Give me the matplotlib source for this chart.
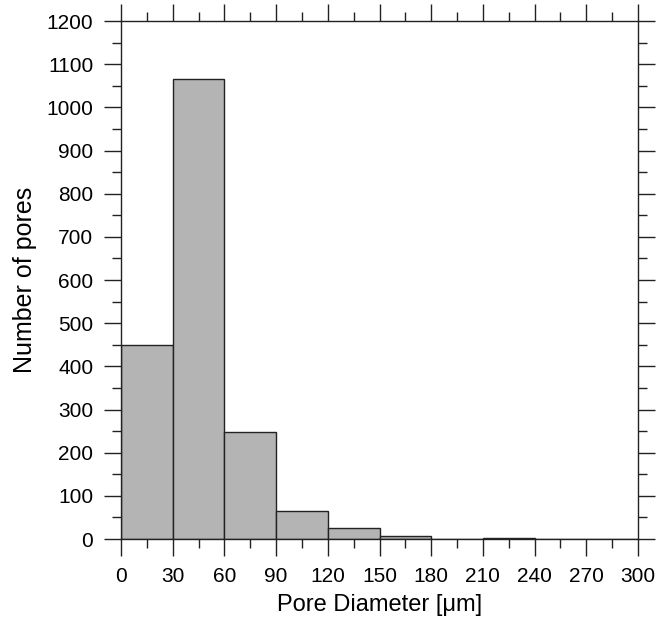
import matplotlib
matplotlib.use("Agg")
import matplotlib.pyplot as plt
from matplotlib.ticker import MultipleLocator

bin_edges = [0, 30, 60, 90, 120, 150, 180, 210, 240, 270, 300]
counts = [450, 1065, 248, 65, 25, 8, 0, 3, 0, 0]
x_ticks = [0, 30, 60, 90, 120, 150, 180, 210, 240, 270, 300]
y_ticks = [0, 100, 200, 300, 400, 500, 600, 700, 800, 900, 1000, 1100, 1200]

plt.rcParams['font.family'] = ['Liberation Sans', 'DejaVu Sans']

fig = plt.figure(figsize=(6.56, 6.22), dpi=100)
ax = fig.add_axes([0.1845, 0.1334, 0.7881, 0.8328])

lefts = bin_edges[:-1]
widths = [bin_edges[i + 1] - bin_edges[i] for i in range(len(counts))]
ax.bar(lefts, counts, width=widths, align='edge', color='#b4b4b4',
       edgecolor='#222222', linewidth=1.0)

ax.set_xlim(0, 300)
ax.set_ylim(0, 1200)
ax.set_xticks(x_ticks)
ax.set_yticks(y_ticks)
ax.xaxis.set_minor_locator(MultipleLocator(15))
ax.yaxis.set_minor_locator(MultipleLocator(50))
ax.tick_params(which='both', direction='out', top=True, right=True,
               labeltop=False, labelright=False, width=1.0, color='#222222')
ax.tick_params(which='major', length=12, labelsize=15, pad=8)
ax.tick_params(which='minor', length=6.5)
for s in ax.spines.values():
    s.set_linewidth(1.0)
    s.set_color('#222222')

ax.set_xlabel('Pore Diameter [\u03bcm]', fontsize=17, labelpad=6)
ax.set_ylabel('Number of pores', fontsize=18, labelpad=7)

fig.savefig('out.png', dpi=100)
